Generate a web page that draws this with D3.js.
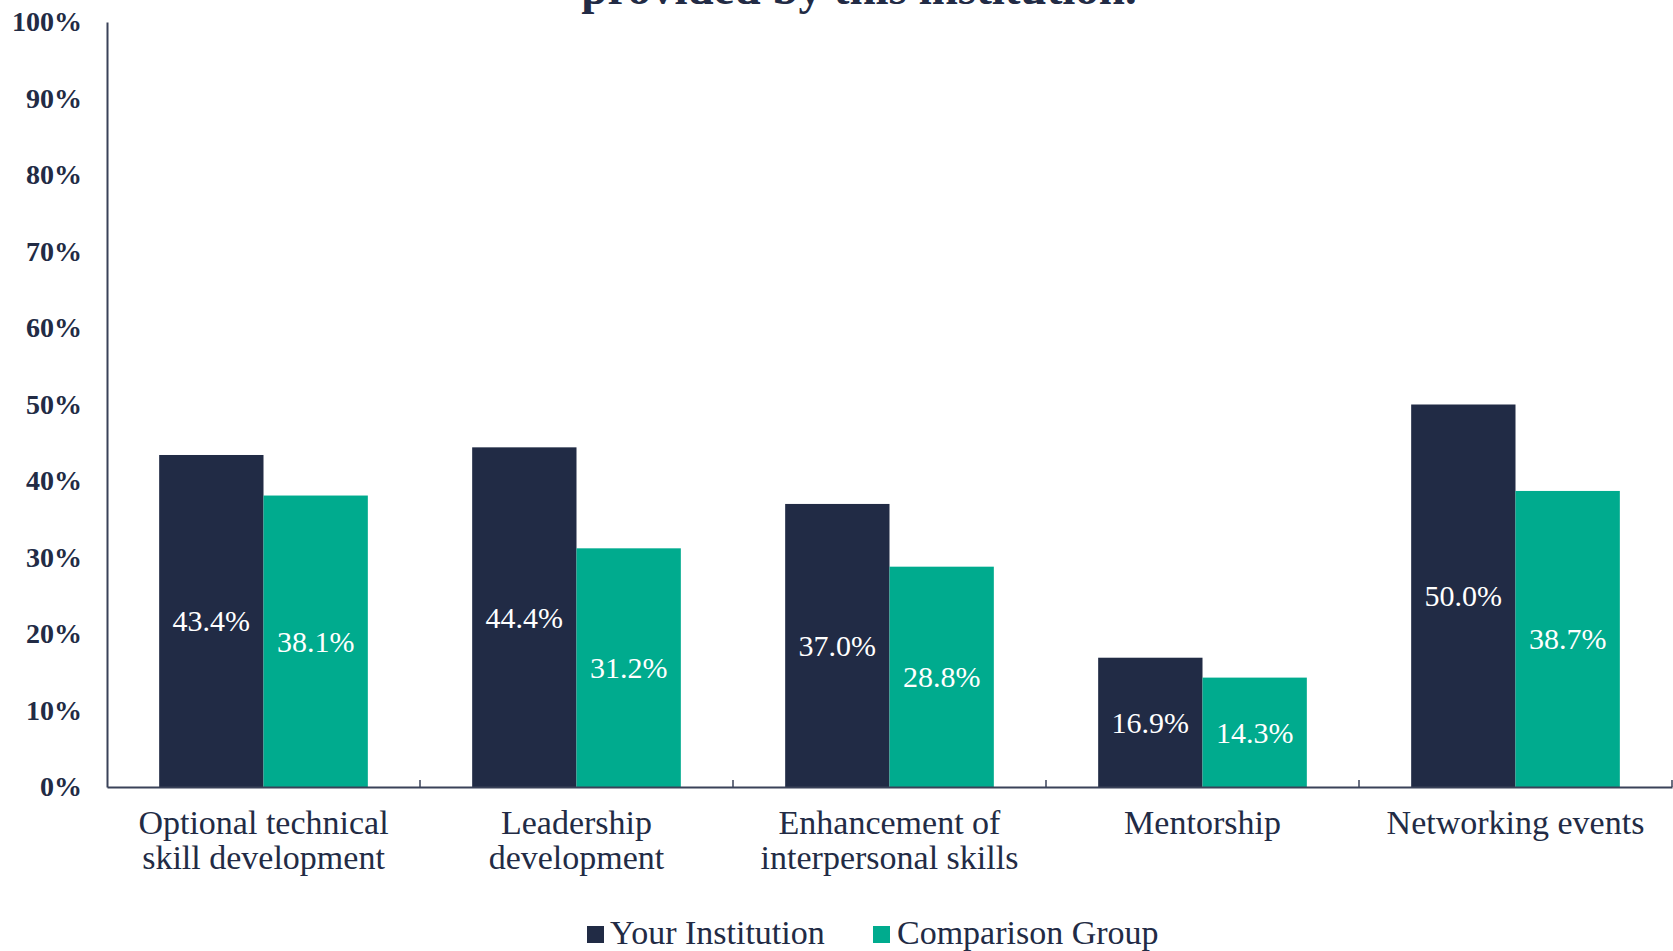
<!DOCTYPE html>
<html>
<head>
<meta charset="utf-8">
<script src="https://cdn.jsdelivr.net/npm/d3@7"></script>
<style>
  html, body { margin: 0; padding: 0; background: #ffffff; }
  svg { display: block; }
  text { font-family: "Liberation Serif", "DejaVu Serif", serif; }
</style>
</head>
<body>
<svg id="chart" width="1673" height="951"></svg>
<script>
// ---- data ----
const categories = [
  ["Optional technical", "skill development"],
  ["Leadership", "development"],
  ["Enhancement of", "interpersonal skills"],
  ["Mentorship"],
  ["Networking events"]
];
const seriesNames = ["Your Institution", "Comparison Group"];
const yourInstitution = [43.4, 44.4, 37.0, 16.9, 50.0];
const comparisonGroup = [38.1, 31.2, 28.8, 14.3, 38.7];
const yTicks = [0, 10, 20, 30, 40, 50, 60, 70, 80, 90, 100];
const titleLine = "provided by this institution.";

// ---- styles ----
const colors = { "Your Institution": "#212B45", "Comparison Group": "#00AB8E" };
const textColor = "#222B45";
const axisColor = "#3A4259";

const svg = d3.select("#chart");
const plotLeft = 107, plotRight = 1672, plotTop = 22, plotBottom = 787;

const catKeys = categories.map(c => c.join(" "));
const x = d3.scaleBand().domain(catKeys).range([plotLeft, plotRight]).paddingInner(0).paddingOuter(0);
const x1 = d3.scaleBand().domain(seriesNames).range([0, x.bandwidth()]).paddingInner(0).paddingOuter(0.5);
const y = d3.scaleLinear().domain([0, 100]).range([plotBottom, plotTop]);

// title (only its last line is inside the picture)
svg.append("text")
  .attr("x", 859).attr("y", 4)
  .attr("text-anchor", "middle")
  .attr("font-size", 47).attr("font-weight", "bold")
  .attr("fill", textColor)
  .text(titleLine);

// bars
const data = catKeys.map((k, i) => ({
  key: k,
  values: [
    { s: seriesNames[0], v: yourInstitution[i] },
    { s: seriesNames[1], v: comparisonGroup[i] }
  ]
}));

const groups = svg.append("g").selectAll("g").data(data).join("g")
  .attr("transform", d => `translate(${x(d.key)},0)`);

groups.selectAll("rect").data(d => d.values).join("rect")
  .attr("x", d => x1(d.s))
  .attr("y", d => y(d.v))
  .attr("width", x1.bandwidth())
  .attr("height", d => y(0) - y(d.v))
  .attr("fill", d => colors[d.s]);

groups.selectAll("text.val").data(d => d.values).join("text")
  .attr("class", "val")
  .attr("x", d => x1(d.s) + x1.bandwidth() / 2)
  .attr("y", d => (y(d.v) + y(0)) / 2)
  .attr("dy", "0.35em")
  .attr("text-anchor", "middle")
  .attr("font-size", 30)
  .attr("fill", "#ffffff")
  .text(d => d.v.toFixed(1) + "%");

// y axis
const yAxis = d3.axisLeft(y).tickValues(yTicks).tickSize(0).tickPadding(25)
  .tickFormat(d => d + "%");
const gy = svg.append("g").attr("transform", `translate(${plotLeft},0)`).call(yAxis);
gy.select(".domain").attr("stroke", axisColor).attr("stroke-width", 2);
gy.selectAll(".tick text")
  .attr("font-family", "Liberation Serif, serif")
  .attr("font-size", 28).attr("font-weight", "bold")
  .attr("fill", textColor);

// x axis
const xAxis = d3.axisBottom(x).tickSize(0).tickFormat("");
const gx = svg.append("g").attr("transform", `translate(0,${plotBottom})`).call(xAxis);
gx.select(".domain").attr("stroke", axisColor).attr("stroke-width", 2);
// boundary ticks pointing up
const bounds = catKeys.map(k => x(k) + x.bandwidth());
gx.selectAll("line.bound").data(bounds).join("line")
  .attr("class", "bound")
  .attr("x1", d => d).attr("x2", d => d)
  .attr("y1", 0).attr("y2", -7)
  .attr("stroke", axisColor).attr("stroke-width", 1.5);

// category labels
const catLabels = svg.append("g").selectAll("text").data(categories).join("text")
  .attr("x", (d, i) => x(catKeys[i]) + x.bandwidth() / 2)
  .attr("y", 834)
  .attr("text-anchor", "middle")
  .attr("font-size", 34)
  .attr("fill", textColor);
catLabels.selectAll("tspan").data(d => d).join("tspan")
  .attr("x", function () { return d3.select(this.parentNode).attr("x"); })
  .attr("dy", (d, i) => i === 0 ? 0 : 35)
  .text(d => d);

// legend
const legendItems = [
  { s: seriesNames[0], sx: 587, tx: 610 },
  { s: seriesNames[1], sx: 873, tx: 897 }
];
const lg = svg.append("g");
lg.selectAll("rect").data(legendItems).join("rect")
  .attr("x", d => d.sx).attr("y", 926)
  .attr("width", 17).attr("height", 17)
  .attr("fill", d => colors[d.s]);
lg.selectAll("text").data(legendItems).join("text")
  .attr("x", d => d.tx).attr("y", 944)
  .attr("font-size", 34)
  .attr("fill", textColor)
  .text(d => d.s);
</script>
</body>
</html>
